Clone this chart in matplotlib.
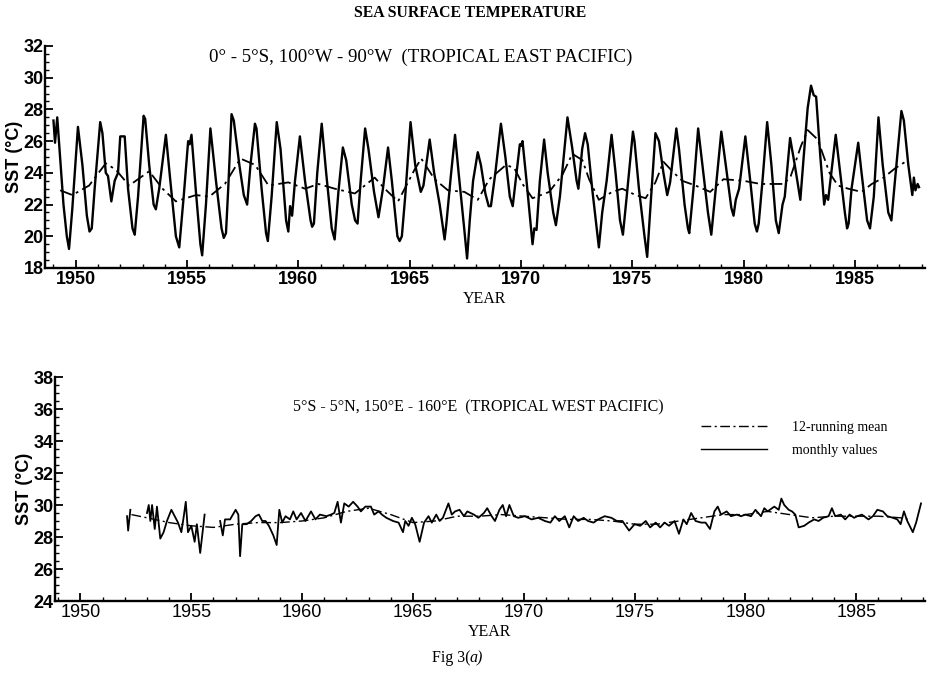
import numpy as np
import matplotlib
matplotlib.use("Agg")
import matplotlib.pyplot as plt
from matplotlib.ticker import MultipleLocator
from matplotlib.lines import Line2D

# ===============================
# Data: monthly SST and 12-month running mean
# ===============================
# Tropical East Pacific (0-5S, 100W-90W)
east_year = [1949.0, 1949.07, 1949.17, 1949.45, 1949.6, 1949.7, 1949.85, 1950.1, 1950.3, 1950.5,
             1950.62, 1950.72, 1950.85, 1951.1, 1951.2, 1951.35, 1951.45, 1951.6, 1951.75, 1951.9,
             1952.0, 1952.2, 1952.35, 1952.55, 1952.65, 1952.8, 1953.05, 1953.12, 1953.3, 1953.5,
             1953.6, 1953.75, 1954.05, 1954.25, 1954.5, 1954.65, 1954.85, 1955.05, 1955.12, 1955.2,
             1955.4, 1955.6, 1955.68, 1955.85, 1956.05, 1956.3, 1956.55, 1956.65, 1956.75, 1956.85,
             1957.0, 1957.1, 1957.35, 1957.55, 1957.7, 1957.85, 1958.05, 1958.12, 1958.35, 1958.55,
             1958.63, 1958.8, 1959.03, 1959.2, 1959.45, 1959.55, 1959.63, 1959.72, 1959.85, 1960.07,
             1960.3, 1960.55, 1960.62, 1960.7, 1960.85, 1961.05, 1961.25, 1961.5, 1961.63, 1961.8,
             1962.0, 1962.15, 1962.4, 1962.55, 1962.66, 1962.8, 1963.0, 1963.15, 1963.4, 1963.6,
             1963.8, 1964.03, 1964.2, 1964.45, 1964.55, 1964.65, 1964.8, 1965.04, 1965.25, 1965.5,
             1965.62, 1965.9, 1966.1, 1966.35, 1966.5, 1966.57, 1966.65, 1966.85, 1967.04, 1967.2,
             1967.45, 1967.58, 1967.7, 1967.85, 1968.06, 1968.2, 1968.4, 1968.55, 1968.65, 1968.85,
             1969.1, 1969.3, 1969.5, 1969.63, 1969.8, 1969.95, 1970.0, 1970.07, 1970.25, 1970.45,
             1970.52, 1970.6, 1970.7, 1970.85, 1971.04, 1971.2, 1971.45, 1971.57, 1971.75, 1972.09,
             1972.3, 1972.5, 1972.58, 1972.75, 1972.88, 1973.0, 1973.2, 1973.4, 1973.5, 1973.65,
             1973.85, 1974.07, 1974.25, 1974.45, 1974.58, 1974.75, 1975.03, 1975.1, 1975.3, 1975.55,
             1975.67, 1975.8, 1976.04, 1976.2, 1976.4, 1976.57, 1976.7, 1976.98, 1977.1, 1977.35,
             1977.5, 1977.56, 1977.75, 1977.96, 1978.15, 1978.4, 1978.55, 1978.75, 1979.0, 1979.2,
             1979.45, 1979.55, 1979.65, 1979.8, 1980.08, 1980.3, 1980.5, 1980.6, 1980.68, 1980.85,
             1981.06, 1981.25, 1981.45, 1981.58, 1981.75, 1981.85, 1982.09, 1982.3, 1982.55, 1982.7,
             1982.88, 1983.03, 1983.15, 1983.26, 1983.45, 1983.62, 1983.7, 1983.8, 1984.14, 1984.3,
             1984.55, 1984.65, 1984.72, 1984.85, 1985.15, 1985.3, 1985.55, 1985.68, 1985.85, 1986.06,
             1986.25, 1986.5, 1986.64, 1986.8, 1987.09, 1987.2, 1987.4, 1987.58, 1987.65, 1987.72,
             1987.82, 1987.88]
east_sst = [27.3, 25.9, 27.5, 22.0, 20.0, 19.2, 21.8, 26.9, 24.5, 21.3,
            20.3, 20.5, 23.0, 27.2, 26.5, 24.0, 23.8, 22.2, 23.5, 24.0,
            26.3, 26.3, 23.0, 20.5, 20.1, 22.5, 27.6, 27.4, 24.5, 22.0,
            21.7, 23.0, 26.4, 23.5, 20.0, 19.3, 22.5, 26.0, 25.8, 26.4,
            22.8, 19.5, 18.8, 22.0, 26.8, 23.5, 20.5, 19.9, 20.2, 23.0,
            27.7, 27.3, 24.5, 22.6, 22.0, 24.5, 27.1, 26.8, 23.0, 20.2,
            19.7, 22.5, 27.2, 25.5, 21.0, 20.3, 21.9, 21.3, 23.5, 26.3,
            23.5, 21.0, 20.6, 20.8, 24.0, 27.1, 24.0, 20.5, 19.8, 22.8,
            25.6, 24.8, 22.0, 21.0, 20.8, 23.5, 26.8, 25.5, 22.8, 21.2,
            23.0, 25.6, 23.5, 20.0, 19.7, 20.0, 22.5, 27.2, 24.5, 22.8,
            23.2, 26.1, 24.0, 22.0, 20.5, 19.8, 20.8, 23.8, 26.4, 24.0,
            20.5, 18.6, 21.0, 23.5, 25.3, 24.5, 22.7, 21.9, 21.9, 24.0,
            27.1, 25.0, 22.5, 21.9, 24.0, 25.8, 25.7, 26.0, 23.5, 20.5,
            19.5, 20.5, 20.4, 23.5, 26.1, 24.0, 21.5, 20.7, 22.5, 27.5,
            25.6, 23.5, 23.0, 25.5, 26.5, 25.8, 23.0, 20.5, 19.3, 21.5,
            23.5, 26.4, 24.0, 21.0, 20.1, 22.5, 26.6, 26.0, 23.0, 20.0,
            18.7, 21.5, 26.5, 26.0, 24.0, 22.6, 23.4, 26.8, 25.5, 22.0,
            20.5, 20.2, 23.0, 26.8, 24.5, 21.5, 20.1, 23.0, 26.6, 24.5,
            21.8, 21.3, 22.3, 23.0, 26.3, 23.5, 20.8, 20.3, 20.8, 23.5,
            27.2, 24.5, 21.0, 20.2, 22.0, 22.5, 26.2, 24.5, 22.3, 25.0,
            28.1, 29.5, 28.9, 28.8, 25.0, 22.0, 22.6, 22.3, 26.4, 24.5,
            21.5, 20.5, 20.8, 23.0, 25.9, 24.0, 21.0, 20.5, 22.5, 27.5,
            24.5, 21.5, 21.0, 23.5, 27.9, 27.3, 24.5, 22.6, 23.7, 22.9,
            23.3, 23.1]
east_mean_year = [1949.3, 1949.85, 1950.6, 1951.35, 1951.8, 1952.4, 1953.3, 1953.9, 1954.5, 1955.4,
                  1956.0, 1956.7, 1957.4, 1958.06, 1958.66, 1959.55, 1960.3, 1960.9, 1961.64, 1962.54,
                  1963.43, 1963.88, 1964.48, 1965.22, 1965.52, 1966.12, 1966.72, 1967.46, 1968.06, 1968.58,
                  1969.33, 1969.7, 1970.07, 1970.52, 1971.27, 1971.87, 1972.31, 1972.76, 1973.06, 1973.5,
                  1974.1, 1974.55, 1975.15, 1975.6, 1976.04, 1976.4, 1976.8, 1977.24, 1977.84, 1978.5,
                  1979.1, 1980.0, 1980.76, 1981.82, 1982.12, 1982.58, 1982.88, 1983.33, 1983.86, 1984.24,
                  1984.7, 1985.3, 1985.76, 1986.29, 1986.82, 1987.27]
east_mean_sst = [22.9, 22.6, 23.2, 24.6, 24.2, 23.2, 24.1, 23.0, 22.2, 22.6,
                 22.5, 23.3, 24.9, 24.5, 23.2, 23.4, 23.0, 23.3, 23.0, 22.7,
                 23.7, 23.0, 22.2, 24.2, 24.9, 23.6, 22.9, 22.8, 22.3, 23.6,
                 24.5, 24.3, 23.3, 22.4, 22.8, 23.9, 25.2, 24.8, 23.6, 22.3,
                 22.8, 23.0, 22.6, 22.4, 23.4, 24.7, 24.1, 23.5, 23.2, 22.8,
                 23.6, 23.5, 23.3, 23.3, 23.8, 25.7, 26.7, 26.1, 24.0, 23.2,
                 23.0, 22.8, 23.3, 23.7, 24.3, 24.7]

# Tropical West Pacific (5S-5N, 150E-160E); nan marks missing months
west_year = [1952.1, 1952.15, 1952.25, 1952.3, 1953.0, 1953.08, 1953.15, 1953.23, 1953.35, 1953.45,
             1953.6, 1953.75, 1953.9, 1954.1, 1954.25, 1954.4, 1954.55, 1954.65, 1954.75, 1954.85,
             1955.0, 1955.15, 1955.25, 1955.4, 1955.6, 1955.7, 1956.3, 1956.42, 1956.52, 1956.75,
             1957.0, 1957.12, 1957.2, 1957.3, 1957.5, 1957.7, 1957.9, 1958.05, 1958.2, 1958.35,
             1958.5, 1958.7, 1958.85, 1958.97, 1959.1, 1959.25, 1959.45, 1959.6, 1959.75, 1959.95,
             1960.15, 1960.4, 1960.6, 1960.8, 1961.1, 1961.3, 1961.45, 1961.6, 1961.75, 1961.9,
             1962.1, 1962.3, 1962.5, 1962.65, 1962.85, 1963.1, 1963.25, 1963.45, 1963.6, 1963.8,
             1964.1, 1964.35, 1964.55, 1964.65, 1964.8, 1964.95, 1965.1, 1965.3, 1965.5, 1965.7,
             1965.85, 1966.05, 1966.2, 1966.35, 1966.6, 1966.75, 1966.9, 1967.1, 1967.3, 1967.45,
             1967.75, 1967.95, 1968.2, 1968.35, 1968.55, 1968.7, 1968.9, 1969.05, 1969.2, 1969.35,
             1969.55, 1969.75, 1970.05, 1970.35, 1970.65, 1970.95, 1971.2, 1971.4, 1971.6, 1971.85,
             1972.05, 1972.25, 1972.45, 1972.7, 1972.9, 1973.15, 1973.35, 1973.65, 1973.95, 1974.2,
             1974.45, 1974.75, 1975.0, 1975.25, 1975.5, 1975.7, 1975.95, 1976.15, 1976.35, 1976.55,
             1976.8, 1977.0, 1977.2, 1977.35, 1977.55, 1977.75, 1978.0, 1978.2, 1978.4, 1978.6,
             1978.75, 1978.9, 1979.15, 1979.35, 1979.6, 1979.8, 1980.0, 1980.25, 1980.45, 1980.7,
             1980.85, 1981.0, 1981.3, 1981.5, 1981.62, 1981.75, 1981.95, 1982.1, 1982.25, 1982.4,
             1982.65, 1982.85, 1983.1, 1983.3, 1983.5, 1983.75, 1983.9, 1984.05, 1984.3, 1984.5,
             1984.7, 1984.9, 1985.05, 1985.25, 1985.55, 1985.75, 1985.95, 1986.2, 1986.4, 1986.65,
             1986.85, 1987.0, 1987.15, 1987.3, 1987.55, 1987.7, 1987.92]
west_sst = [29.3, 28.4, 29.7, np.nan, 29.5, 30.0, 29.0, 30.0, 28.5, 29.9,
            27.9, 28.3, 29.0, 29.7, 29.3, 28.9, 28.3, 29.2, 30.2, 28.3,
            28.7, 27.7, 28.8, 27.0, 29.4, np.nan, 29.0, 28.1, 29.1, 29.1,
            29.7, 29.4, 26.8, 28.8, 28.8, 29.0, 29.3, 29.4, 29.0, 29.0,
            28.7, 28.1, 27.5, 29.7, 28.9, 29.3, 29.1, 29.6, 29.1, 29.5,
            29.0, 29.6, 29.1, 29.4, 29.3, 29.4, 29.5, 30.2, 28.9, 30.1,
            29.9, 30.2, 29.9, 29.6, 29.9, 29.9, 29.4, 29.6, 29.4, 29.2,
            29.0, 28.9, 28.3, 29.0, 28.7, 29.2, 28.8, 27.7, 28.9, 29.3,
            28.9, 29.4, 29.0, 29.2, 30.1, 29.4, 29.6, 29.7, 29.3, 29.6,
            29.4, 29.2, 29.5, 29.8, 29.3, 29.0, 29.7, 30.0, 29.3, 30.0,
            29.3, 29.2, 29.3, 29.1, 29.2, 29.0, 28.9, 29.3, 29.0, 29.3,
            28.6, 29.3, 29.0, 29.2, 29.0, 28.9, 29.1, 29.3, 29.2, 29.0,
            29.0, 28.4, 28.8, 28.7, 29.0, 28.6, 28.9, 28.6, 28.9, 28.7,
            29.0, 28.2, 29.1, 28.8, 29.5, 29.0, 28.9, 28.9, 28.5, 29.6,
            29.9, 29.4, 29.6, 29.3, 29.4, 29.3, 29.4, 29.3, 29.7, 29.3,
            29.8, 29.6, 29.9, 29.7, 30.4, 30.0, 29.7, 29.6, 29.4, 28.6,
            28.7, 28.9, 29.1, 29.0, 29.2, 29.3, 29.8, 29.3, 29.4, 29.1,
            29.4, 29.2, 29.3, 29.4, 29.1, 29.3, 29.7, 29.6, 29.3, 29.2,
            29.1, 28.8, 29.6, 29.0, 28.3, 28.9, 30.1]
west_mean_year = [1952.3, 1953.0, 1954.0, 1955.0, 1956.0, 1957.0, 1958.0, 1959.0, 1960.0, 1961.0,
                  1962.0, 1963.0, 1964.0, 1965.0, 1966.0, 1967.0, 1968.0, 1969.0, 1970.0, 1971.0,
                  1972.0, 1973.0, 1974.0, 1975.0, 1976.0, 1977.0, 1978.0, 1979.0, 1980.0, 1981.0,
                  1982.0, 1983.0, 1984.0, 1985.0, 1986.0, 1987.0, 1987.4]
west_mean_sst = [29.4, 29.2, 28.9, 28.7, 28.6, 28.8, 28.9, 28.9, 29.0, 29.2,
                 29.6, 29.8, 29.4, 28.9, 29.0, 29.3, 29.3, 29.4, 29.3, 29.2,
                 29.1, 29.1, 29.0, 28.8, 28.8, 29.0, 29.2, 29.4, 29.4, 29.6,
                 29.4, 29.2, 29.3, 29.3, 29.3, 29.2, 29.1]

SERIF = ["Liberation Serif", "DejaVu Serif"]
SANS = ["Liberation Sans", "DejaVu Sans"]
W, H = 939, 686
MEAN_DASH = (0, (7, 2.5, 1.5, 2.5))


def fx(px):
    return px / W


def fy(py):
    return 1 - py / H


def style_axes(ax, ymin, ymax, xmin, xmax, xbold):
    ax.set_xlim(xmin, xmax)
    ax.set_ylim(ymin, ymax)
    for s in ("top", "right"):
        ax.spines[s].set_visible(False)
    for s in ("left", "bottom"):
        ax.spines[s].set_linewidth(1.7)
    ax.xaxis.set_major_locator(MultipleLocator(5))
    ax.xaxis.set_minor_locator(MultipleLocator(1))
    ax.yaxis.set_major_locator(MultipleLocator(2))
    ax.yaxis.set_minor_locator(MultipleLocator(0.5))
    ax.tick_params(which="major", direction="in", length=6, width=1.3, labelsize=13, pad=2)
    ax.tick_params(axis="y", which="major", pad=1)
    ax.tick_params(which="minor", direction="in", length=3, width=1.0)
    for lab in ax.get_yticklabels():
        lab.set_family(SANS)
        lab.set_fontweight("bold")
    for lab in ax.get_xticklabels():
        lab.set_family(SANS)
        lab.set_fontweight("bold" if xbold else "normal")
    ax.set_ylabel("SST (°C)", family=SANS, fontsize=13, fontweight="bold", labelpad=0)
    ax.set_xlabel("YEAR", family=SERIF, fontsize=11.5, labelpad=2)


fig = plt.figure(figsize=(W / 100, H / 100), dpi=100)

# ===============================
# Top panel: East Pacific
# ===============================
ax1 = fig.add_axes([fx(45), fy(268), fx(925 - 45), fy(46) - fy(268)])
ax1.plot(east_year, east_sst, color="black", lw=1.7, solid_joinstyle="round")
ax1.plot(east_mean_year, east_mean_sst, color="black", lw=1.3, linestyle=MEAN_DASH)
style_axes(ax1, 18, 32, 1948.62, 1988.15, True)

# ===============================
# Bottom panel: West Pacific
# ===============================
ax2 = fig.add_axes([fx(55), fy(601), fx(925 - 55), fy(377) - fy(601)])
ax2.plot(west_year, west_sst, color="black", lw=1.3)
ax2.plot(west_mean_year, west_mean_sst, color="black", lw=1.0, linestyle=MEAN_DASH)
style_axes(ax2, 24, 38, 1948.85, 1988.1, False)

handles = [Line2D([], [], color="black", lw=1.0, linestyle=MEAN_DASH),
           Line2D([], [], color="black", lw=1.0)]
ax2.legend(handles, ["12-running mean", "monthly values"], loc="upper left",
           bbox_to_anchor=(fx(695 - 55) / fx(925 - 55), 0.83), frameon=False,
           prop={"family": SERIF, "size": 10}, handlelength=4.8, handletextpad=1.8,
           labelspacing=0.75, borderaxespad=0)

# ===============================
# Titles
# ===============================
fig.text(fx(470), fy(13), "SEA SURFACE TEMPERATURE", ha="center", va="center",
         family=SERIF, fontsize=11.3, fontweight="bold")
fig.text(fx(421), fy(57), "0° - 5°S, 100°W - 90°W  (TROPICAL EAST PACIFIC)",
         ha="center", va="center", family=SERIF, fontsize=13.6)
fig.text(fx(478), fy(407), "5°S - 5°N, 150°E - 160°E  (TROPICAL WEST PACIFIC)",
         ha="center", va="center", family=SERIF, fontsize=11.5)
fig.text(fx(470), fy(658), "Fig 3(", ha="right", va="center", family=SERIF, fontsize=11.5)
fig.text(fx(470), fy(658), "a)", ha="left", va="center", family=SERIF, fontsize=11.5,
         style="italic")

fig.savefig("out.png", dpi=100)
